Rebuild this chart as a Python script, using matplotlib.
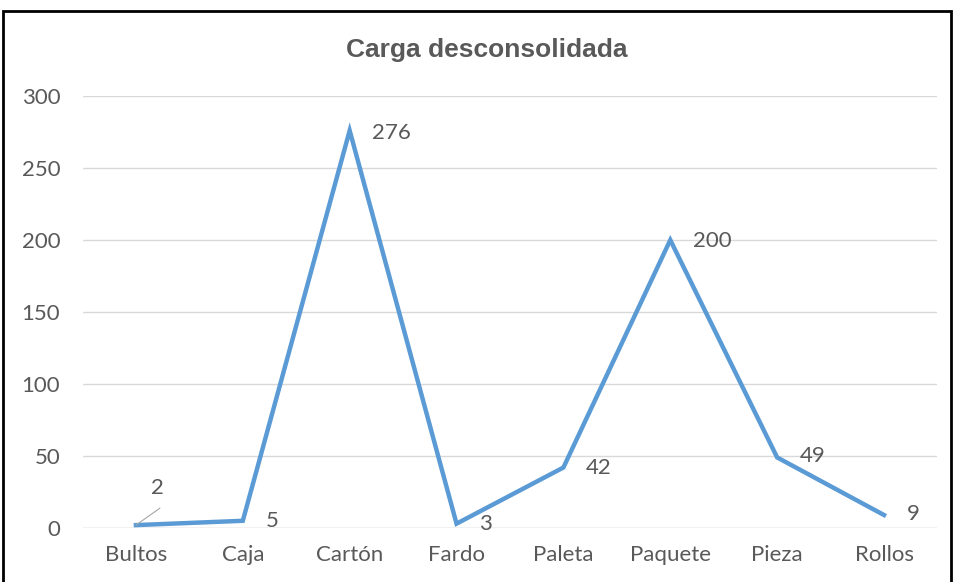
import matplotlib.pyplot as plt
from matplotlib.patches import Rectangle

categories = ['Bultos', 'Caja', 'Cartón', 'Fardo', 'Paleta', 'Paquete', 'Pieza', 'Rollos']
values = [2, 5, 276, 3, 42, 200, 49, 9]
yticks = [0, 50, 100, 150, 200, 250, 300]

plt.rcParams['font.family'] = ['Lato', 'DejaVu Sans']
gray = '#595959'

fig = plt.figure(figsize=(9.56, 5.82), dpi=100)
ax = fig.add_axes([0.0863, 0.0928, 0.8943, 0.7422])

x = range(len(categories))
ax.plot(x, values, color='#5B9BD5', linewidth=3.2, solid_joinstyle='miter', zorder=3)

ax.set_xlim(-0.5, len(categories) - 0.5)
ax.set_ylim(0, 300)
ax.set_yticks(yticks)
ax.set_xticks(list(x))
ax.set_xticklabels(categories)
ax.tick_params(axis='both', length=0, labelsize=16, colors=gray)
ax.tick_params(axis='y', pad=16)
ax.tick_params(axis='x', pad=12)
ax.grid(axis='y', color='#d9d9d9', linewidth=1)
ax.set_axisbelow(True)
for s in ax.spines.values():
    s.set_visible(False)
ax.axhline(0, color='#d9d9d9', linewidth=1, zorder=1)

# data labels (right of the point), first one with leader line
offsets = [(22, 37), (29, 0), (42, -2), (29, 0), (35, 0), (42, -1), (35, 1), (29, 1)]
for i, (v, (dx, dy)) in enumerate(zip(values, offsets)):
    ax.annotate(str(v), (i, v), xytext=(dx, dy), textcoords='offset pixels',
                ha='center', va='center', fontsize=16, color=gray)
ax.annotate('', (0, values[0]), xytext=(24, 17), textcoords='offset pixels',
            arrowprops=dict(arrowstyle='-', color='#a6a6a6', lw=0.8, shrinkA=0, shrinkB=0))

fig.text(0.509, 0.914, 'Carga desconsolidada', ha='center', va='center',
         fontsize=19, fontweight='bold', color=gray, family=['Liberation Sans', 'DejaVu Sans'])

fig.patches.append(Rectangle((0.0035, -0.05), 0.9915, 1.05 - 0.0185, transform=fig.transFigure,
                             fill=False, edgecolor='black', linewidth=2))

fig.savefig('out.png', dpi=100)
